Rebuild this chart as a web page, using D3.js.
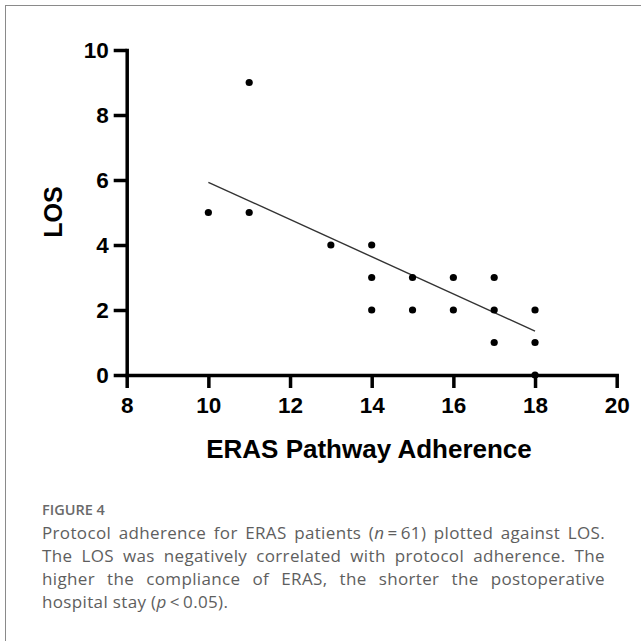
<!DOCTYPE html>
<html>
<head>
<meta charset="utf-8">
<script src="https://cdn.jsdelivr.net/npm/d3@7"></script>
<style>
  html, body { margin: 0; padding: 0; background: #fff; }
  #wrap { position: relative; width: 641px; height: 641px; overflow: hidden; }
  svg { position: absolute; left: 0; top: 0; }
  .cap { position: absolute; left: 42px; width: 563px; font-family: "Open Sans", sans-serif; color: #5e5e5e; font-size: 17px; letter-spacing: 0.35px; line-height: 20px; white-space: nowrap; }
  .just { text-align: justify; text-align-last: justify; white-space: normal; }
  .fig { font-weight: 600; font-size: 14.5px; letter-spacing: 0; color: #6a6a6a; line-height: 16px; }
</style>
</head>
<body>
<div id="wrap"></div>
<script>
// Data
const adherence = [10, 11, 11, 13, 14, 14, 14, 15, 15, 16, 16, 17, 17, 17, 18, 18, 18];
const los       = [5,  9,  5,  4,  4,  3,  2,  3,  2,  3,  2,  3,  2,  1,  2,  1,  0];
const fitX = [10, 18];
const fitY = [5.93, 1.35];
const xTicks = [8, 10, 12, 14, 16, 18, 20];
const yTicks = [0, 2, 4, 6, 8, 10];
const xTitle = "ERAS Pathway Adherence";
const yTitle = "LOS";
const figLabel = "FIGURE 4";

const W = 641, H = 641;
const wrap = d3.select("#wrap");
const svg = wrap.append("svg").attr("width", W).attr("height", H);

// frame
svg.append("rect").attr("x", 5.5).attr("y", 5.5).attr("width", 700).attr("height", 700)
  .attr("fill", "none").attr("stroke", "#8a8a8a").attr("stroke-width", 1);

const x = d3.scaleLinear().domain([8, 20]).range([126.7, 616.7]);
const y = d3.scaleLinear().domain([0, 10]).range([375, 50]);

const font = "'Liberation Sans', Arial, sans-serif";

const gx = svg.append("g").attr("transform", `translate(0,${y(0)})`)
  .call(d3.axisBottom(x).tickValues(xTicks).tickSizeInner(13).tickSizeOuter(0).tickPadding(9).tickFormat(d3.format("d")));
const gy = svg.append("g").attr("transform", `translate(${x(8)},0)`)
  .call(d3.axisLeft(y).tickValues(yTicks).tickSizeInner(13).tickSizeOuter(0).tickPadding(5).tickFormat(d3.format("d")));

[gx, gy].forEach(g => {
  g.select(".domain").attr("stroke", "#000").attr("stroke-width", 3.5).attr("stroke-linecap", "square");
  g.selectAll(".tick line").attr("stroke", "#000").attr("stroke-width", 3.5);
  g.selectAll(".tick text").attr("fill", "#000").style("font-family", font)
    .style("font-weight", "bold").style("font-size", "22.5px");
});

// regression line
svg.append("path")
  .datum(fitX.map((v, i) => [v, fitY[i]]))
  .attr("d", d3.line().x(d => x(d[0])).y(d => y(d[1])))
  .attr("fill", "none").attr("stroke", "#333").attr("stroke-width", 1.4);

// points
svg.append("g").selectAll("circle")
  .data(adherence.map((v, i) => [v, los[i]]))
  .join("circle")
  .attr("cx", d => x(d[0])).attr("cy", d => y(d[1])).attr("r", 3.6)
  .attr("fill", "#000");

// axis titles
svg.append("text").attr("x", 369).attr("y", 458).attr("text-anchor", "middle")
  .style("font-family", font).style("font-weight", "bold").style("font-size", "26px")
  .attr("fill", "#000").text(xTitle);
svg.append("text").attr("transform", "translate(62,212) rotate(-90)").attr("text-anchor", "middle")
  .style("font-family", font).style("font-weight", "bold").style("font-size", "25px")
  .attr("fill", "#000").text(yTitle);

// caption
const capLines = [
  { html: figLabel, cls: "cap fig", top: 502 },
  { html: "Protocol adherence for ERAS patients (<i>n</i>&#8201;=&#8201;61) plotted against LOS.", cls: "cap just", top: 523 },
  { html: "The LOS was negatively correlated with protocol adherence. The", cls: "cap just", top: 546 },
  { html: "higher the compliance of ERAS, the shorter the postoperative", cls: "cap just", top: 569 },
  { html: "hospital stay (<i>p</i>&#8201;&lt;&#8201;0.05).", cls: "cap", top: 592 }
];
capLines.forEach(l => {
  wrap.append("div").attr("class", l.cls).style("top", l.top + "px").html(l.html);
});
</script>
</body>
</html>
